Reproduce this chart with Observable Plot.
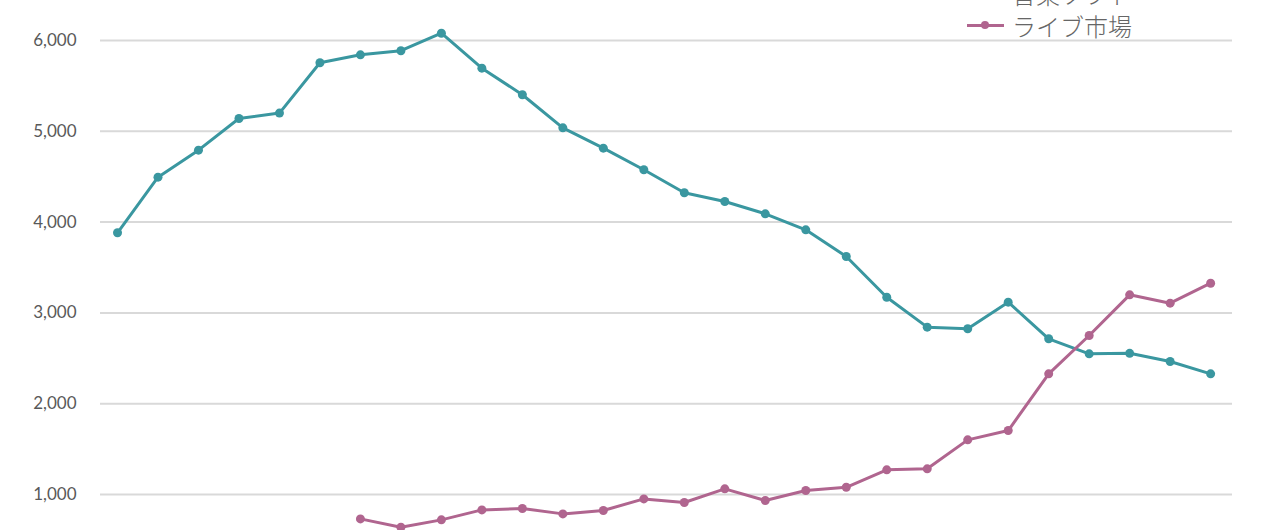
<!DOCTYPE html>
<html>
<head>
<meta charset="utf-8">
<script src="https://cdn.jsdelivr.net/npm/d3@7"></script>
<script src="https://cdn.jsdelivr.net/npm/@observablehq/plot@0.6"></script>
<style>
  html, body { margin: 0; padding: 0; background: #fff; overflow: hidden; }
  #wrap { position: relative; width: 1280px; height: 530px; }
  .legend { position: absolute; left: 967px; font-family: "Noto Sans CJK JP", sans-serif; font-size: 24px; font-weight: 300; color: #666; }
  .row { position: absolute; left: 0; height: 30px; display: flex; align-items: center; white-space: nowrap; }
  .sw { position: relative; width: 37px; height: 30px; margin-right: 8px; }
  .sw .ln { position: absolute; left: 0; right: 0; top: 13.5px; height: 3px; }
  .sw .dt { position: absolute; left: 14px; top: 11px; width: 8px; height: 8px; border-radius: 50%; }
</style>
</head>
<body>
<div id="wrap"></div>
<script>
const years = d3.range(1990, 2018);
const cdValues = [3882, 4495, 4792, 5141, 5200, 5754, 5842, 5887, 6080, 5695, 5402, 5038, 4814, 4576, 4323, 4227, 4091, 3915, 3621, 3173, 2843, 2825, 3118, 2715, 2549, 2555, 2465, 2329];
const liveYears = d3.range(1996, 2018);
const liveValues = [732, 640, 721, 831, 846, 787, 824, 952, 912, 1063, 934, 1044, 1080, 1272, 1283, 1602, 1705, 2329, 2751, 3199, 3107, 3327];
const yTicks = [1000, 2000, 3000, 4000, 5000, 6000];
const seriesNames = ["音楽ソフト", "ライブ市場"];
const colors = ["#3a97a0", "#b0658f"];

const cd = years.map((y, i) => ({year: y, value: cdValues[i]}));
const live = liveYears.map((y, i) => ({year: y, value: liveValues[i]}));

const chart = Plot.plot({
  width: 1280,
  height: 530,
  marginLeft: 100,
  marginRight: 48,
  marginTop: 0,
  marginBottom: 0,
  style: {fontFamily: "Lato, 'Open Sans', sans-serif", fontSize: "17px", background: "transparent"},
  x: {domain: [1989.58, 2017.54], axis: null},
  y: {domain: [604, 6440], axis: null},
  marks: [
    Plot.ruleY(yTicks, {stroke: "#d9d9d9", strokeWidth: 2}),
    Plot.axisY({ticks: yTicks, tickSize: 0, tickPadding: 24, tickFormat: d3.format(","), fill: "#595959", fontSize: 17, label: null}),
    Plot.line(cd, {x: "year", y: "value", stroke: colors[0], strokeWidth: 3}),
    Plot.dot(cd, {x: "year", y: "value", fill: colors[0], r: 4.5}),
    Plot.line(live, {x: "year", y: "value", stroke: colors[1], strokeWidth: 3}),
    Plot.dot(live, {x: "year", y: "value", fill: colors[1], r: 4.5})
  ]
});
const wrap = document.getElementById("wrap");
wrap.appendChild(chart);

const legend = document.createElement("div");
legend.className = "legend";
legend.style.top = "0px";
seriesNames.forEach((name, i) => {
  const row = document.createElement("div");
  row.className = "row";
  row.style.top = (i * 32 - 22) + "px";
  row.innerHTML = `<div class="sw"><div class="ln" style="background:${colors[i]}"></div><div class="dt" style="background:${colors[i]}"></div></div><span>${name}</span>`;
  legend.appendChild(row);
});
wrap.appendChild(legend);
</script>
</body>
</html>
